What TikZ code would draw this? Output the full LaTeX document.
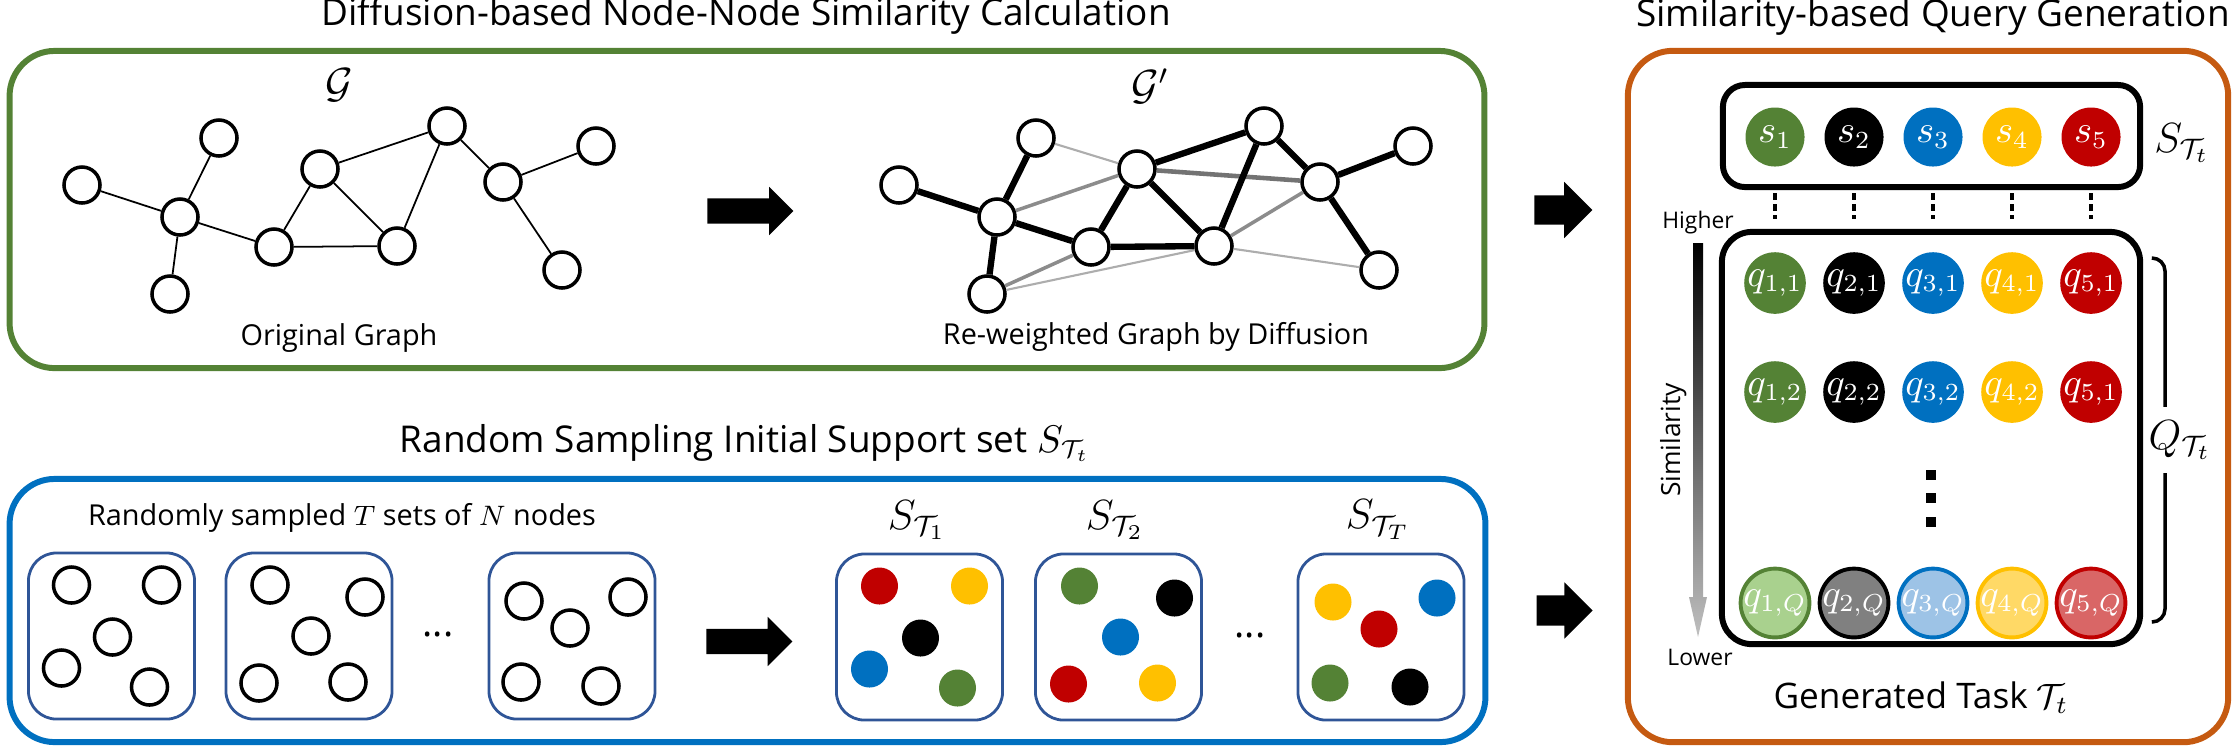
\documentclass[tikz,border=0pt]{standalone}
\usepackage{fontspec}
\setmainfont{Open Sans}
\usetikzlibrary{calc,shapes.arrows}

\definecolor{boxgreen}{HTML}{548235}
\definecolor{boxblue}{HTML}{0070C0}
\definecolor{boxorange}{HTML}{C55A11}
\definecolor{setblue}{HTML}{2F5597}
\definecolor{cgreen}{HTML}{548235}
\definecolor{cblue}{HTML}{0070C0}
\definecolor{cyellow}{HTML}{FFC000}
\definecolor{cred}{HTML}{C00000}
\definecolor{lgreen}{HTML}{A9D18E}
\definecolor{lblack}{HTML}{808080}
\definecolor{lblue}{HTML}{9DC3E6}
\definecolor{lyellow}{HTML}{FFD966}
\definecolor{lred}{HTML}{D96666}

\newcommand{\fsz}[1]{\fontsize{#1}{#1}\selectfont}

\begin{document}
\begin{tikzpicture}[
    x=0.01cm, y=-0.01cm,
    panel/.style={draw=#1, line width=1.7pt, rounded corners=0.45cm, inner sep=0pt},
    group box/.style={draw, line width=1.7pt, rounded corners=0.22cm, inner sep=0pt},
    set box/.style={draw=setblue, line width=0.8pt, rounded corners=0.28cm, minimum width=1.66cm, minimum height=1.66cm},
    heading/.style={font=\fsz{10.5}, anchor=base},
    caption/.style={font=\fsz{8.2}, anchor=base},
    small caption/.style={font=\fsz{6.5}, anchor=base},
    math label/.style={font=\fsz{12}, inner sep=1pt},
    gnode/.style={circle, draw, line width=1pt, fill=white, minimum size=0.36cm, inner sep=0pt},
    dot/.style={circle, fill=#1, minimum size=0.37cm, inner sep=0pt},
    ball/.style={circle, fill=#1, minimum size=0.59cm, inner sep=0pt, text=white, font=\fsz{10.5}},
    faded ball/.style 2 args={ball=#2, draw=#1, line width=1.1pt},
    plain edge/.style={line width=0.5pt},
    strong edge/.style={line width=1.8pt},
    weak edge/.style 2 args={line width=#1, draw=black!#2},
    big arrow/.style={single arrow, fill=black, inner xsep=0pt, inner ysep=#1, single arrow head indent=0pt},
    link/.style={line width=1.1pt, dash pattern=on 2pt off 1.1pt},
  ]

  \useasboundingbox (0,0) rectangle (2236,750);

  \node[panel=boxgreen, minimum width=14.74cm, minimum height=3.17cm] (diff) at (747,209.5) {};
  \node[panel=boxblue, minimum width=14.75cm, minimum height=2.63cm] (rand) at (747.5,610.5) {};
  \node[panel=boxorange, minimum width=6cm, minimum height=6.91cm] (query) at (1928,396.5) {};

  \node[heading] (diff-title) at (746,25) {Diffusion-based Node-Node Similarity Calculation};
  \node[heading] (query-title) at (1933,26) {Similarity-based Query Generation};
  \node[heading] (rand-title) at (745,452) {Random Sampling Initial Support set $S_{\mathcal{T}_t}$};

  % original graph (g) and re-weighted graph (h)
  \foreach \n/\px/\py in {1/82/185, 2/219/138, 3/180/217, 4/170/294, 5/320/169, 6/274/247,
                          7/397/246, 8/447/126, 9/503/182, 10/596/146, 11/562/270} {
    \node[gnode] (g\n) at (\px,\py) {};
    \node[gnode] (h\n) at (\px+817,\py) {};
  }
  \foreach \u/\v/\w/\c in {2/5/0.6pt/32, 7/11/0.6pt/32, 4/7/0.6pt/32, 3/5/1pt/45, 4/6/1pt/45, 7/9/1pt/45, 5/9/1.3pt/55}
    \draw[weak edge={\w}{\c}] (h\u) -- (h\v);
  \foreach \u/\v in {1/3, 2/3, 3/4, 3/6, 5/6, 5/8, 5/7, 6/7, 7/8, 8/9, 9/10, 9/11} {
    \draw[plain edge] (g\u) -- (g\v);
    \draw[strong edge] (h\u) -- (h\v);
  }

  \node[math label] (g-label) at (339,85) {$\mathcal{G}$};
  \node[math label] (h-label) at (1150,86) {$\mathcal{G}'$};
  \node[caption] (g-caption) at (339,345) {Original Graph};
  \node[caption] (h-caption) at (1156,344) {Re-weighted Graph by Diffusion};

  \node[big arrow=0.12cm, minimum height=0.86cm, single arrow head extend=0.115cm] (arr-diff) at (744,211) {};
  \node[big arrow=0.14cm, minimum height=0.58cm, single arrow head extend=0.135cm] (arr-query1) at (1556,210) {};
  \node[big arrow=0.12cm, minimum height=0.86cm, single arrow head extend=0.12cm] (arr-sample) at (743,641.5) {};
  \node[big arrow=0.145cm, minimum height=0.56cm, single arrow head extend=0.13cm] (arr-query2) at (1557,610.5) {};

  % sampled sets
  \node[caption] (rand-caption) at (342,525) {Randomly sampled $T$ sets of $N$ nodes};
  \node[set box] (setA) at (111.5,636) {};
  \node[set box] (setB) at (309,636) {};
  \node[set box] (setC) at (572,636) {};
  \node[set box] (setD) at (919.5,637) {};
  \node[set box] (setE) at (1118.5,637) {};
  \node[set box] (setF) at (1381,637) {};
  \foreach \dx/\dy/\c [count=\k] in {-40/-51/cred, 50/-51/cyellow, 1/1/black, -50/32/cblue, 38/51/cgreen} {
    \node[gnode] (setA-\k) at ($(setA)+(\dx,\dy)$) {};
    \node[dot=\c] (setD-\k) at ($(setD)+(\dx,\dy)$) {};
  }
  \foreach \dx/\dy/\c [count=\k] in {-39/-51/cgreen, 56/-39/black, 2/0/cblue, -50/47/cred, 39/46/cyellow} {
    \node[gnode] (setB-\k) at ($(setB)+(\dx,\dy)$) {};
    \node[dot=\c] (setE-\k) at ($(setE)+(\dx,\dy)$) {};
  }
  \foreach \dx/\dy/\c [count=\k] in {-48/-35/cyellow, 56/-39/cblue, -2/-8/cred, -51/46/cgreen, 29/50/black} {
    \node[gnode] (setC-\k) at ($(setC)+(\dx,\dy)$) {};
    \node[dot=\c] (setF-\k) at ($(setF)+(\dx,\dy)$) {};
  }
  \node[font=\fsz{11}, anchor=base] (skip1) at (438,636) {...};
  \node[font=\fsz{11}, anchor=base] (skip2) at (1250,637) {...};
  \node[math label] (setD-label) at (917,520) {$S_{\mathcal{T}_1}$};
  \node[math label] (setE-label) at (1115,520) {$S_{\mathcal{T}_2}$};
  \node[math label] (setF-label) at (1378,520) {$S_{\mathcal{T}_T}$};

  % generated task
  \node[group box, minimum width=4.17cm, minimum height=1.02cm] (sbox) at (1931.5,136) {};
  \node[group box, minimum width=4.18cm, minimum height=4.12cm, rounded corners=0.3cm] (qbox) at (1931,438) {};
  \foreach \c/\lc/\t [count=\k] in {cgreen/lgreen/2, black/lblack/2, cblue/lblue/2, cyellow/lyellow/2, cred/lred/1} {
    \node[ball=\c] (s\k) at (1696+79*\k,137) {$s_\k$};
    \node[ball=\c] (q\k-1) at (1696+79*\k,283) {$q_{\k,1}$};
    \node[ball=\c] (q\k-2) at (1696+79*\k,392) {$q_{\k,\t}$};
    \node[faded ball={\c}{\lc}] (q\k-Q) at (1696+79*\k,603) {$q_{\k,Q}$};
    \draw[link] ($(s\k.south)+(0,26)$) -- ($(q\k-1.north)+(0,-33)$);
  }
  \foreach \py [count=\k] in {475,498,522}
    \node[fill, rectangle, minimum size=0.1cm, inner sep=0pt] (vdot\k) at (1931,\py) {};

  \node[math label] (s-label) at (2182,143) {$S_{\mathcal{T}_t}$};
  \draw[line width=1pt, rounded corners=0.13cm] (2152,258) -- (2165,258) -- (2165,622) -- (2152,622);
  \node[math label, fill=white, inner ysep=4pt] (q-label) at (2180,440) {$Q_{\mathcal{T}_t}$};

  \shade[top color=black, bottom color=black!25] (1693,243) -- (1703,243) -- (1703,597) -- (1707,597)
    -- (1698,637) -- (1689,597) -- (1693,597) -- cycle;
  \node[small caption] (higher) at (1698,228) {Higher};
  \node[small caption] (lower) at (1700,665) {Lower};
  \node[font=\fsz{7.5}, anchor=base, rotate=90] (sim) at (1680,440) {Similarity};

  \node[font=\fsz{10}, anchor=base] (task) at (1921,708) {Generated Task $\mathcal{T}_t$};

\end{tikzpicture}
\end{document}
